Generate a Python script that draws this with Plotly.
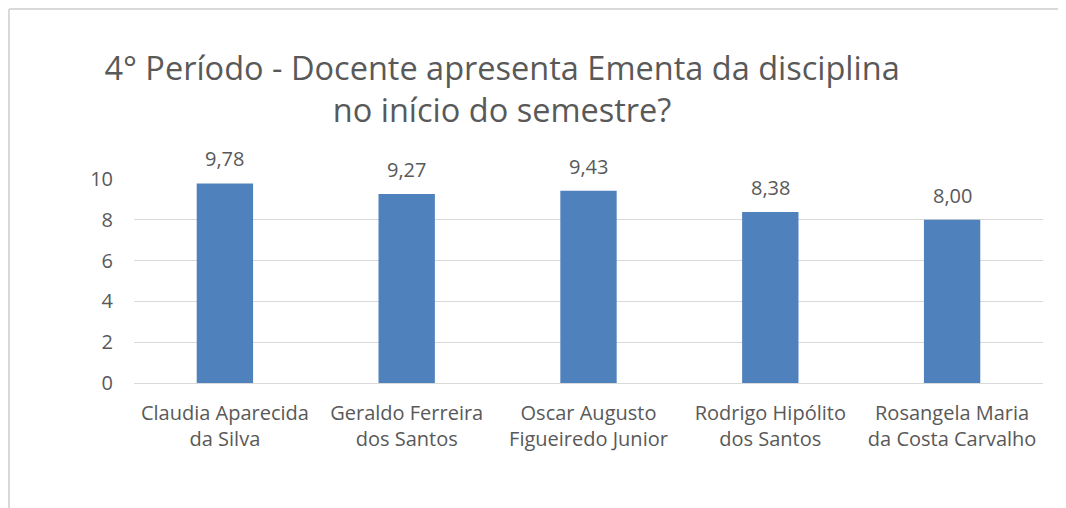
import plotly.graph_objects as go

# Data
docentes = [
    "Claudia Aparecida<br>da Silva",
    "Geraldo Ferreira<br>dos Santos",
    "Oscar Augusto<br>Figueiredo Junior",
    "Rodrigo Hipólito<br>dos Santos",
    "Rosangela Maria<br>da Costa Carvalho",
]
notas = [9.78, 9.27, 9.43, 8.38, 8.00]
y_ticks = [0, 2, 4, 6, 8, 10]

TITLE = "4° Período - Docente apresenta Ementa da disciplina<br>no início do semestre?"
BAR_COLOR = "#4F81BD"
TEXT_COLOR = "#595959"
GRID_COLOR = "#D9D9D9"
FONT = "Open Sans, sans-serif"

# the page adds an 8px body margin, so the figure starts at (8, 8)
W, H = 1058, 500
L, R, T, B = 126, 23, 171, 125
PW, PH = W - L - R, H - T - B

fig = go.Figure()
fig.add_trace(go.Bar(
    x=docentes,
    y=notas,
    marker=dict(color=BAR_COLOR, line=dict(width=0)),
    hoverinfo="x+y",
))

# Value labels above each bar, comma decimal separator
for d, v in zip(docentes, notas):
    fig.add_annotation(
        x=d, y=v, xref="x", yref="y",
        text=f"{v:.2f}".replace(".", ","),
        showarrow=False, yanchor="bottom", yshift=9,
        font=dict(size=20, color=TEXT_COLOR, family=FONT),
    )

# Outer chart border (only top and left edges visible in the crop)
top = 1 + (T - 1) / PH
left = (1 - L) / PW
fig.add_shape(type="line", xref="paper", yref="paper",
              x0=left, x1=1 + R / PW, y0=top, y1=top,
              line=dict(color=GRID_COLOR, width=2))
fig.add_shape(type="line", xref="paper", yref="paper",
              x0=left, x1=left, y0=top, y1=-B / PH,
              line=dict(color=GRID_COLOR, width=2))

fig.update_layout(
    width=W, height=H,
    margin=dict(l=L, r=R, t=T, b=B, autoexpand=False),
    paper_bgcolor="white", plot_bgcolor="white",
    font=dict(family=FONT, size=20, color=TEXT_COLOR),
    title=dict(
        text=TITLE, x=0.467, xanchor="center", y=0.857, yanchor="top",
        font=dict(size=32.5, color=TEXT_COLOR, family=FONT),
    ),
    bargap=0.69,
    showlegend=False,
)
fig.update_xaxes(
    automargin=False,
    showgrid=False, showline=True, linecolor=GRID_COLOR, linewidth=1,
    ticks="", tickfont=dict(size=20, color=TEXT_COLOR), ticklabelstandoff=12,
)
fig.update_yaxes(
    automargin=False,
    range=[0, 10], tickvals=y_ticks,
    showgrid=True, gridcolor=GRID_COLOR, gridwidth=1,
    zeroline=False, showline=False, ticks="",
    tickfont=dict(size=20, color=TEXT_COLOR), ticklabelstandoff=20,
)

fig.write_html("out.html")
